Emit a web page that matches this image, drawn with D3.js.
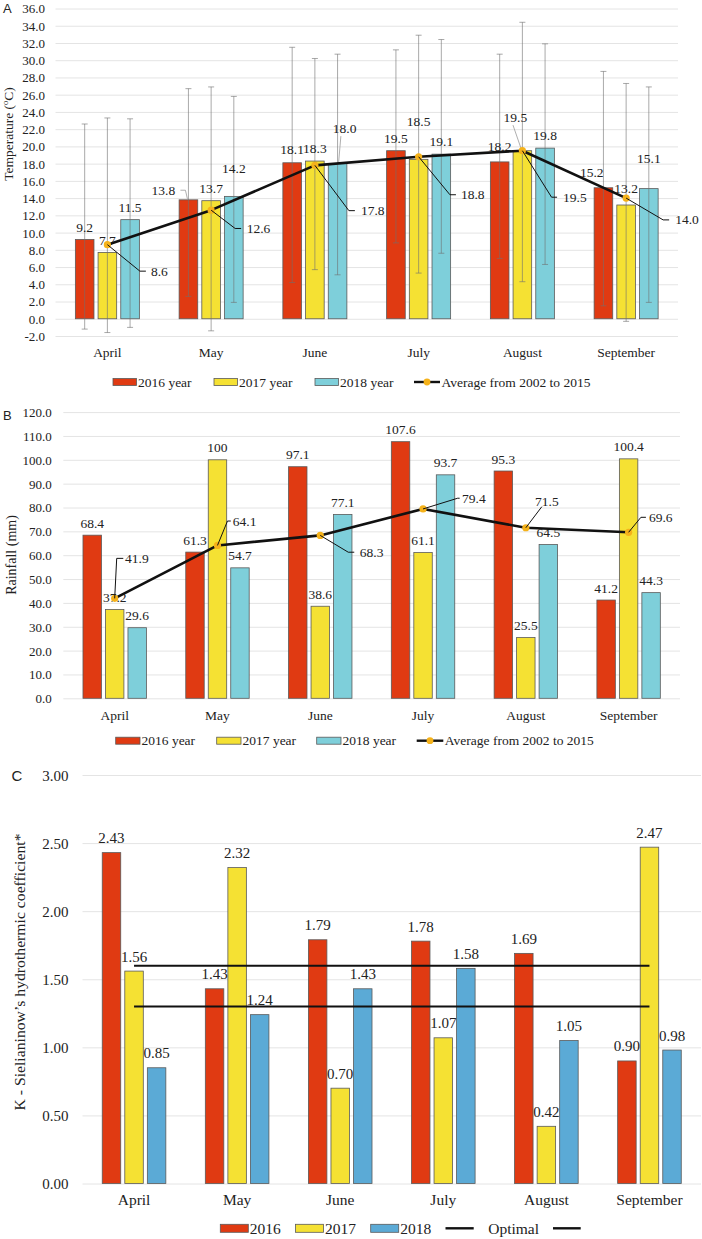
<!DOCTYPE html>
<html><head><meta charset="utf-8">
<script src="https://cdn.jsdelivr.net/npm/d3@7"></script>
<style>
body{margin:0;background:#fff}
svg{display:block}
text{font-family:"Liberation Serif","Times New Roman",serif;fill:#222}
</style>
</head><body>
<svg id="chart" width="702" height="1239"></svg>
<script>
// ---------------- DATA ----------------
const months = ["April","May","June","July","August","September"];

// Panel A – temperature (°C)
const tempTicks = [-2,0,2,4,6,8,10,12,14,16,18,20,22,24,26,28,30,32,34,36];
const temp2016 = [9.2,13.8,18.1,19.5,18.2,15.2];
const temp2017 = [7.7,13.7,18.3,18.5,19.5,13.2];
const temp2018 = [11.5,14.2,18.0,19.1,19.8,15.1];
const tempMax2016 = [22.6,26.7,31.5,31.2,30.7,28.7];
const tempMin2016 = [-1.2,2.6,4.2,8.8,7.0,1.5];
const tempMax2017 = [23.3,26.9,30.2,32.9,34.4,27.3];
const tempMin2017 = [-1.6,-1.4,5.7,5.3,4.3,-0.3];
const tempMax2018 = [23.2,25.8,30.7,32.4,31.9,26.9];
const tempMin2018 = [-1.0,1.9,5.1,7.6,6.3,1.9];
const tempAvg = [8.6,12.6,17.8,18.8,19.5,14.0];

// Panel B – rainfall (mm)
const rainTicks = [0,10,20,30,40,50,60,70,80,90,100,110,120];
const rain2016 = [68.4,61.3,97.1,107.6,95.3,41.2];
const rain2017 = [37.2,100,38.6,61.1,25.5,100.4];
const rain2018 = [29.6,54.7,77.1,93.7,64.5,44.3];
const rainAvg = [41.9,64.1,68.3,79.4,71.5,69.6];

// Panel C – Sielianinow's hydrothermic coefficient
const kTicks = [0,0.5,1,1.5,2,2.5,3];
const k2016 = [2.43,1.43,1.79,1.78,1.69,0.90];
const k2017 = [1.56,2.32,0.70,1.07,0.42,2.47];
const k2018 = [0.85,1.24,1.43,1.58,1.05,0.98];
const kOptimalUpper = [1.6,1.6,1.6,1.6,1.6,1.6];
const kOptimalLower = [1.3,1.3,1.3,1.3,1.3,1.3];

const legendYearsAB = ["2016 year","2017 year","2018 year"];
const legendAvg = "Average from 2002 to 2015";
const legendYearsC = ["2016","2017","2018"];
const legendOptimal = "Optimal";

// ---------------- STYLE / LAYOUT ----------------
const RED = "#E03A12", YEL = "#F5E133", CYAN = "#7ECFDA", BLUE = "#5BAAD6";
const ORANGE = "#F5B21A", BAR_STROKE = "#5a5a5a", GRID = "#e4e4e4";
const SERIF = "'Liberation Serif','Times New Roman',serif";
const SANS = "'Liberation Sans',Arial,sans-serif";

// label nudges [dx, dy] relative to bar top centre (manual label placement)
const nudgeA = [
  [[0,-12],[-25,-9.6],[0,-13.7],[0,-12.3],[0,-15],[-11.7,-15.3]],
  [[0,-12],[0,-12.2],[0,-12.6],[0,-37.5],[-7,-33],[0,-16.5]],
  [[0,-12],[0,-28],[7,-35.5],[0,-12.3],[0,-13],[0,-30]]
];
// grey leader lines [series, month, points relative to bar top]
const greyLeadersA = [
  [0,1,[[-8,-9.6],[-3,-9.6],[-1,-1]]],
  [2,2,[[3.3,-27.5],[1,-0.5]]],
  [1,4,[[-9.4,-25.6],[-1,-1.3]]]
];
// average labels: [elbowDx, elbowDy, hLen, textDx, textDy, anchor]
const avgLabA = [
  [32.5,26.5,6,5,0,"start"],[24,18.3,6,5.5,0,"start"],[34,45.3,6,6,0,"start"],
  [31.3,38,6,5,0,"start"],[29.2,46.5,5.5,6,0,"start"],[37,21.8,6,6,0,"start"]
];
const avgLabB = [
  [2,-40,6.6,1.8,0,"start"],[10,-24.4,3.3,2,0,"start"],[28,16.8,6,5.5,0,"start"],
  [34.6,-10.7,2,2.4,0,"start"],[16,-21.1,0,5,-5.5,"middle"],[12.3,-15,5,3,0,"start"]
];

const svg = d3.select("#chart");

function fmt1(v){ return (Number.isInteger(v) && v >= 100) ? String(v) : v.toFixed(1); }

function drawPanel(c) {
  const g = svg.append("g");
  const x = d3.scaleBand().domain(months).range(c.xRange).paddingInner(0.383).paddingOuter(0.1915);
  const xi = d3.scaleBand().domain(d3.range(c.series.length)).range([0, x.bandwidth()]).paddingInner(0.18);
  const y = d3.scaleLinear().domain(c.yDomain).range(c.yRange);
  const gridW = c.gridRight - c.xRange[0];

  // y axis with gridlines
  const ga = g.append("g").attr("transform", `translate(${c.xRange[0]},0)`)
    .call(d3.axisLeft(y).tickValues(c.ticks).tickFormat(c.tickFmt).tickSize(-gridW).tickPadding(c.tickPad));
  ga.select(".domain").remove();
  ga.attr("font-family", SERIF).attr("font-size", c.tickFs).attr("color", "#222");
  ga.selectAll("line").attr("stroke", GRID);
  ga.selectAll("text").attr("dy", "0.34em");

  // x axis labels
  const gx = g.append("g").attr("transform", `translate(0,${c.xLabelY})`)
    .call(d3.axisBottom(x).tickSize(0).tickPadding(0));
  gx.select(".domain").remove();
  gx.attr("font-family", SERIF).attr("font-size", c.xFs).attr("color", "#222");
  gx.selectAll("text").attr("y", 0).attr("dy", "0");

  // bars
  c.series.forEach((s, i) => {
    g.append("g").selectAll("rect").data(s.values).join("rect")
      .attr("x", (d, j) => x(months[j]) + xi(i))
      .attr("y", d => y(d))
      .attr("width", xi.bandwidth())
      .attr("height", d => y(0) - y(d))
      .attr("fill", s.color).attr("stroke", BAR_STROKE).attr("stroke-width", 0.8);
  });

  // error bars
  c.series.forEach((s, i) => {
    if (!s.max) return;
    const eg = g.append("g").attr("stroke", "#6f6f6f").attr("stroke-opacity", 0.6).attr("stroke-width", 1);
    s.max.forEach((mx, j) => {
      const cx = x(months[j]) + xi(i) + xi.bandwidth() / 2;
      const y1 = y(mx), y2 = y(s.min[j]);
      eg.append("line").attr("x1", cx).attr("x2", cx).attr("y1", y1).attr("y2", y2);
      eg.append("line").attr("x1", cx - 3).attr("x2", cx + 3).attr("y1", y1).attr("y2", y1);
      eg.append("line").attr("x1", cx - 3).attr("x2", cx + 3).attr("y1", y2).attr("y2", y2);
    });
  });

  // bar labels
  c.series.forEach((s, i) => {
    g.append("g").selectAll("text").data(s.values).join("text")
      .attr("x", (d, j) => x(months[j]) + xi(i) + xi.bandwidth() / 2 + (c.nudge ? c.nudge[i][j][0] : 0))
      .attr("y", (d, j) => y(d) + (c.nudge ? c.nudge[i][j][1] : c.labelDy) + c.labFs * 0.34)
      .attr("text-anchor", "middle").style("font-size", c.labFs + "px")
      .text(c.labFmt);
  });

  // grey leaders
  (c.greyLeaders || []).forEach(([i, j, pts]) => {
    const cx = x(months[j]) + xi(i) + xi.bandwidth() / 2, ty = y(c.series[i].values[j]);
    g.append("path").attr("d", d3.line()(pts.map(p => [cx + p[0], ty + p[1]])))
      .attr("fill", "none").attr("stroke", "#9a9a9a").attr("stroke-width", 0.8);
  });

  const cxm = j => x(months[j]) + x.bandwidth() / 2;

  // horizontal reference lines (Optimal)
  (c.refLines || []).forEach(vals => {
    g.append("path").datum(vals)
      .attr("d", d3.line().x((d, j) => cxm(j)).y(d => y(d)))
      .attr("fill", "none").attr("stroke", "#111").attr("stroke-width", 2);
  });

  // average line
  if (c.avg) {
    g.append("path").datum(c.avg)
      .attr("d", d3.line().x((d, j) => cxm(j)).y(d => y(d)))
      .attr("fill", "none").attr("stroke", "#111").attr("stroke-width", 2.6).attr("stroke-linejoin", "round");
    g.append("g").selectAll("circle").data(c.avg).join("circle")
      .attr("cx", (d, j) => cxm(j)).attr("cy", d => y(d)).attr("r", 3.6).attr("fill", ORANGE);
    c.avg.forEach((v, j) => {
      const [ex, ey, h, tdx, tdy, anchor] = c.avgLab[j];
      const mx = cxm(j), my = y(v);
      g.append("path").attr("d", d3.line()([[mx, my], [mx + ex, my + ey], [mx + ex + h, my + ey]]))
        .attr("fill", "none").attr("stroke", "#111").attr("stroke-width", 1);
      g.append("text").attr("x", mx + ex + h + tdx).attr("y", my + ey + tdy + c.labFs * 0.34)
        .attr("text-anchor", anchor).style("font-size", c.labFs + "px").text(fmt1(v));
    });
  }

  // y title
  const yt = g.append("text").attr("transform", `translate(${c.yTitle.x},${c.yTitle.y}) rotate(-90)`)
    .attr("text-anchor", "middle").style("font-size", c.yTitle.fs + "px");
  c.yTitle.build(yt);

  // panel letter
  g.append("text").attr("x", c.letter.x).attr("y", c.letter.y).style("font-family", SANS)
    .style("font-size", c.letter.fs + "px").text(c.letter.t);

  // legend
  const lg = g.append("g").style("font-size", c.legend.fs + "px");
  c.legend.items.forEach(it => {
    if (it.type === "rect") {
      lg.append("rect").attr("x", it.x).attr("y", c.legend.cy - it.h / 2).attr("width", it.w).attr("height", it.h)
        .attr("fill", it.color).attr("stroke", BAR_STROKE).attr("stroke-width", 0.8);
      lg.append("text").attr("x", it.x + it.w + 1.5).attr("y", c.legend.base).text(it.label);
    } else {
      lg.append("line").attr("x1", it.x).attr("x2", it.x + it.w).attr("y1", c.legend.cy).attr("y2", c.legend.cy)
        .attr("stroke", "#111").attr("stroke-width", 2.4);
      if (it.marker) lg.append("circle").attr("cx", it.x + it.w / 2).attr("cy", c.legend.cy).attr("r", 3.4).attr("fill", ORANGE);
      if (it.label) lg.append("text").attr("x", it.x + it.w + (it.gap || 1.5)).attr("y", c.legend.base).text(it.label);
    }
  });
}

// Panel A
drawPanel({
  xRange: [55.5, 678], gridRight: 678, yDomain: [-2, 36], yRange: [336, 8.5],
  ticks: tempTicks, tickFmt: d => d.toFixed(1), tickPad: 10.5, tickFs: 13,
  xLabelY: 356.5, xFs: 13.5, labFs: 13.5, labFmt: d => d.toFixed(1),
  series: [
    {values: temp2016, color: RED, max: tempMax2016, min: tempMin2016},
    {values: temp2017, color: YEL, max: tempMax2017, min: tempMin2017},
    {values: temp2018, color: CYAN, max: tempMax2018, min: tempMin2018}
  ],
  nudge: nudgeA, greyLeaders: greyLeadersA,
  avg: tempAvg, avgLab: avgLabA,
  yTitle: {x: 12.5, y: 134, fs: 13.5, build: t => {
    t.append("tspan").text("Temperature (");
    t.append("tspan").attr("dy", -5).style("font-size", "8.5px").text("o");
    t.append("tspan").attr("dy", 5).text("C)");
  }},
  letter: {x: 3, y: 12.5, fs: 13, t: "A"},
  legend: {cy: 382, base: 386.5, fs: 13.5, items: [
    {type: "rect", x: 113, w: 23.5, h: 7, color: RED, label: legendYearsAB[0]},
    {type: "rect", x: 214, w: 23.5, h: 7, color: YEL, label: legendYearsAB[1]},
    {type: "rect", x: 315, w: 23.5, h: 7, color: CYAN, label: legendYearsAB[2]},
    {type: "line", x: 414, w: 26, marker: true, label: legendAvg}
  ]}
});

// Panel B
drawPanel({
  xRange: [63.3, 680], gridRight: 680, yDomain: [0, 120], yRange: [698.3, 412.1],
  ticks: rainTicks, tickFmt: d => d.toFixed(1), tickPad: 11.6, tickFs: 13,
  xLabelY: 719.5, xFs: 13.5, labFs: 13.5, labFmt: fmt1, labelDy: -12,
  series: [
    {values: rain2016, color: RED},
    {values: rain2017, color: YEL},
    {values: rain2018, color: CYAN}
  ],
  avg: rainAvg, avgLab: avgLabB,
  yTitle: {x: 15.5, y: 555, fs: 14, build: t => t.text("Rainfall (mm)")},
  letter: {x: 3, y: 420, fs: 13, t: "B"},
  legend: {cy: 740.7, base: 745, fs: 13.5, items: [
    {type: "rect", x: 115.7, w: 24.3, h: 7, color: RED, label: legendYearsAB[0]},
    {type: "rect", x: 216.7, w: 24.3, h: 7, color: YEL, label: legendYearsAB[1]},
    {type: "rect", x: 316.7, w: 24.3, h: 7, color: CYAN, label: legendYearsAB[2]},
    {type: "line", x: 416.7, w: 26.6, marker: true, label: legendAvg}
  ]}
});

// Panel C
drawPanel({
  xRange: [82.5, 701], gridRight: 701, yDomain: [0, 3], yRange: [1183.5, 775],
  ticks: kTicks, tickFmt: d => d.toFixed(2), tickPad: 14, tickFs: 15,
  xLabelY: 1204.5, xFs: 15.5, labFs: 15, labFmt: d => d.toFixed(2), labelDy: -14.6,
  series: [
    {values: k2016, color: RED},
    {values: k2017, color: YEL},
    {values: k2018, color: BLUE}
  ],
  refLines: [kOptimalUpper, kOptimalLower],
  yTitle: {x: 25, y: 972, fs: 15.5, build: t => t.attr("textLength", 277).attr("lengthAdjust", "spacingAndGlyphs")
    .text("K - Sielianinow\u2019s hydrothermic coefficient*")},
  letter: {x: 11.5, y: 781, fs: 15, t: "C"},
  legend: {cy: 1228.3, base: 1233.8, fs: 15.5, items: [
    {type: "rect", x: 220.3, w: 28, h: 8, color: RED, label: legendYearsC[0]},
    {type: "rect", x: 295.5, w: 28, h: 8, color: YEL, label: legendYearsC[1]},
    {type: "rect", x: 370.7, w: 28, h: 8, color: BLUE, label: legendYearsC[2]},
    {type: "line", x: 445.5, w: 28.2, marker: false, label: legendOptimal, gap: 14.5},
    {type: "line", x: 553, w: 27.7, marker: false, label: ""}
  ]}
});
</script>
</body></html>
